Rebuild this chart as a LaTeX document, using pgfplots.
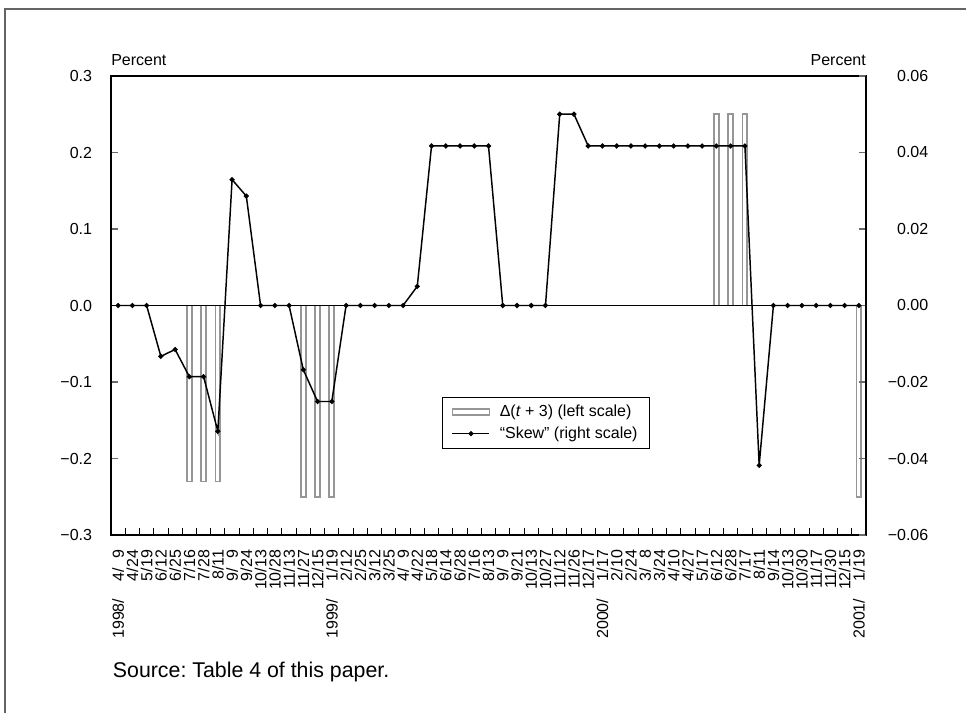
\documentclass[border=0pt]{standalone}
\usepackage{fontspec}
\setmainfont{Liberation Sans}
\usepackage{pgfplots}
\pgfplotsset{compat=1.18}
\definecolor{barcol}{RGB}{150,150,150}
\definecolor{tickgray}{RGB}{105,105,105}
\definecolor{framegray}{RGB}{100,100,100}
\newcommand\ff{\fontsize{12}{14.4}\selectfont}
\frenchspacing
\begin{document}
\ff
\begin{tikzpicture}
\useasboundingbox (0,0) rectangle (724.5pt,534.75pt);
\draw[framegray, line width=1.1pt] (3.75pt,0pt) -- (3.75pt,528pt) -- (724.5pt,528pt);
\begin{axis}[
  at={(83.25pt,133.5pt)}, anchor=south west,
  scale only axis, width=566.25pt, height=344.25pt,
  xmin=0.5, xmax=53.5, ymin=-0.3, ymax=0.3,
  axis line style={black, line width=0.9pt},
  tick label style={font=\ff},
  xtick={1,...,53},
  xticklabels={{1998/\hspace{1.1em}4/\phantom{0}9},4/24,5/19,6/12,6/25,7/16,7/28,8/11,{9/\phantom{0}9},9/24,10/13,10/28,11/13,11/27,12/15,
    {1999/\hspace{1.1em}1/19},2/12,2/25,3/12,3/25,{4/\phantom{0}9},4/22,5/18,6/14,6/28,7/16,8/13,{9/\phantom{0}9},9/21,10/13,10/27,11/12,11/26,12/17,
    {2000/\hspace{1.1em}1/17},2/10,2/24,{3/\phantom{0}8},3/24,4/10,4/27,5/17,6/12,6/28,7/17,8/11,9/14,10/13,10/30,11/17,11/30,12/15,
    {2001/\hspace{1.1em}1/19}},
  every major x tick/.append style={draw=none},
  minor xtick={1.5,2.5,...,52.5},
  every minor x tick/.append style={black, line width=0.7pt},
  minor tick length=5.25pt, major tick length=5.25pt,
  tick align=inside,
  xtick pos=bottom, ytick pos=left,
  ytick={-0.3,-0.2,-0.1,0,0.1,0.2,0.3},
  yticklabels={−0.3,−0.2,−0.1,0.0,0.1,0.2,0.3},
  scaled y ticks=false,
  ytick style={tickgray, line width=0.8pt},
  xticklabel style={yshift=-11pt, rotate=90, anchor=east, inner sep=0pt},
  yticklabel style={anchor=east, inner sep=0pt, xshift=-14pt},
]
\addplot[ybar, bar width=3.6pt, draw=barcol, line width=1.4pt, fill=white, forget plot]
  coordinates {(6,-0.23) (7,-0.23) (8,-0.23) (14,-0.25) (15,-0.25) (16,-0.25)
               (43,0.25) (44,0.25) (45,0.25) (53,-0.25)};
\addplot[black, line width=0.8pt, no marks, forget plot] coordinates {(0.5,0) (53.5,0)};
\end{axis}
\begin{axis}[
  at={(83.25pt,133.5pt)}, anchor=south west,
  scale only axis, width=566.25pt, height=344.25pt,
  xmin=0.5, xmax=53.5, ymin=-0.06, ymax=0.06,
  hide x axis,
  axis line style={black, line width=0.9pt},
  tick label style={font=\ff},
  ytick={-0.06,-0.04,-0.02,0,0.02,0.04,0.06},
  yticklabels={−0.06,−0.04,−0.02,0.00,0.02,0.04,0.06},
  scaled y ticks=false,
  ytick pos=right, yticklabel pos=right,
  major tick length=5.25pt, tick align=inside,
  ytick style={tickgray, line width=0.8pt},
  yticklabel style={anchor=west, inner sep=0pt, xshift=10.5pt, text width=36pt, align=right},
  legend style={at={(0.576,0.244)}, anchor=center, draw=black, line width=0.8pt,
    font=\ff, inner xsep=7pt, inner ysep=4pt, row sep=1.5pt,
    /tikz/every odd column/.append style={column sep=5pt}},
  legend cell align=left,
]
\addlegendimage{legend image code/.code={\draw[draw=barcol, line width=1.4pt, fill=white] (0pt,-2.2pt) rectangle (27.75pt,2.2pt);}}
\addlegendentry{Δ(\textit{t} + 3) (left scale)}
\addplot[black, line width=1.1pt, mark=*, mark size=1.3pt,
  legend image code/.code={\draw[black, line width=1.1pt] (0pt,0pt) -- (27.75pt,0pt); \fill[black] (13.9pt,0pt) circle (1.3pt);}]
  coordinates {
  (1,0) (2,0) (3,0) (4,-0.0133) (5,-0.0115) (6,-0.0186) (7,-0.0186) (8,-0.0329)
  (9,0.0329) (10,0.0286) (11,0) (12,0) (13,0) (14,-0.0168) (15,-0.0251) (16,-0.0251)
  (17,0) (18,0) (19,0) (20,0) (21,0) (22,0.005) (23,0.0417) (24,0.0417) (25,0.0417)
  (26,0.0417) (27,0.0417) (28,0) (29,0) (30,0) (31,0) (32,0.05) (33,0.05)
  (34,0.0417) (35,0.0417) (36,0.0417) (37,0.0417) (38,0.0417) (39,0.0417) (40,0.0417)
  (41,0.0417) (42,0.0417) (43,0.0417) (44,0.0417) (45,0.0417) (46,-0.0418)
  (47,0) (48,0) (49,0) (50,0) (51,0) (52,0) (53,0)};
\addlegendentry{“Skew” (right scale)}
\end{axis}
\node[anchor=base west, inner sep=0pt] at (83.25pt,485.25pt) {Percent};
\node[anchor=base east, inner sep=0pt] at (649.5pt,485.25pt) {Percent};
\node[anchor=base west, inner sep=0pt, font=\fontsize{16}{19}\selectfont] at (84.5pt,26.8pt) {Source: Table 4 of this paper.};
\end{tikzpicture}
\end{document}
